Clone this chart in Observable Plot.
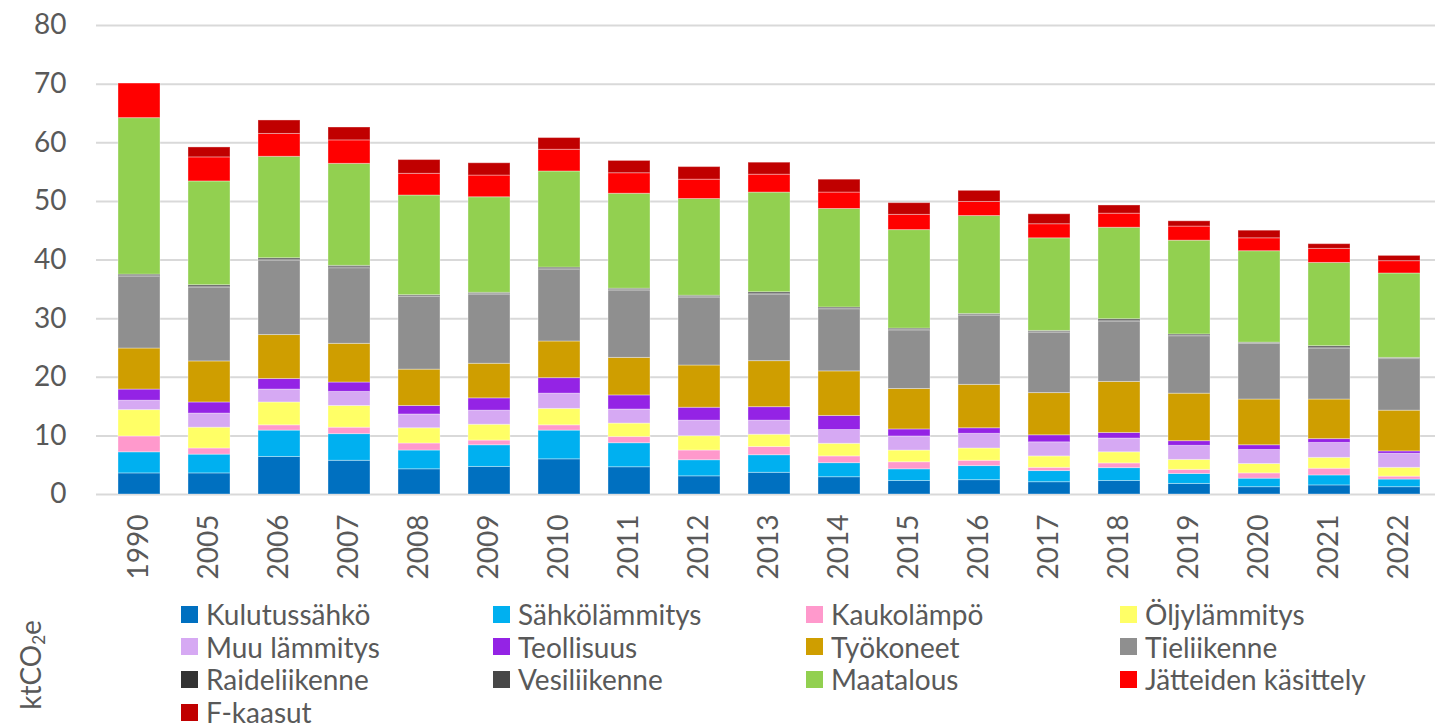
<!DOCTYPE html>
<html>
<head>
<meta charset="utf-8">
<script src="https://cdn.jsdelivr.net/npm/d3@7"></script>
<script src="https://cdn.jsdelivr.net/npm/@observablehq/plot@0.6"></script>
<style>
  html, body { margin: 0; padding: 0; background: #fff; overflow: hidden; }
  body { width: 1435px; height: 728px; position: relative; font-family: Lato, "Open Sans", sans-serif; color: #595959; }
  #chart svg { display: block; }
  .leg-item { position: absolute; height: 26px; line-height: 26px; display: flex; align-items: center; font-size: 28px; color: #595959; white-space: nowrap; }
  .leg-sw { width: 17px; height: 17px; margin-right: 8px; flex: none; }
  #unit { position: absolute; left: 31px; top: 665px; transform: translate(-50%, -50%) rotate(-90deg); font-size: 28px; color: #595959; white-space: nowrap; }
  #unit sub { font-size: 17px; vertical-align: -4px; }
</style>
</head>
<body>
<div id="chart"></div>
<div id="legend"></div>
<div id="unit">ktCO<sub>2</sub>e</div>
<script>
const years = ["1990","2005","2006","2007","2008","2009","2010","2011","2012","2013","2014","2015","2016","2017","2018","2019","2020","2021","2022"];
const series = ["Kulutussähkö","Sähkölämmitys","Kaukolämpö","Öljylämmitys","Muu lämmitys","Teollisuus","Työkoneet","Tieliikenne","Raideliikenne","Vesiliikenne","Maatalous","Jätteiden käsittely","F-kaasut"];
const colors = ["#0070C0","#00B0F0","#FF99CC","#FFFF66","#D6A9F3","#9423E5","#CF9E00","#8F8F8F","#333333","#474747","#92D050","#FF0000","#C00000"];
const yTicks = [0,10,20,30,40,50,60,70,80];

const kulutussahko   = [3.6,3.6,6.4,5.75,4.3,4.7,6.0,4.65,3.1,3.7,2.95,2.3,2.45,2.1,2.3,1.8,1.25,1.55,1.25];
const sahkolammitys  = [3.6,3.2,4.5,4.55,3.2,3.7,4.9,4.1,2.75,3.0,2.4,2.0,2.4,1.9,2.2,1.7,1.45,1.7,1.3];
const kaukolampo     = [2.7,1.05,0.9,1.1,1.2,0.8,0.9,1.05,1.65,1.4,1.15,1.2,0.9,0.55,0.8,0.7,0.9,1.15,0.5];
const oljylammitys   = [4.5,3.55,3.9,3.7,2.6,2.7,2.8,2.3,2.45,2.1,2.15,2.0,2.1,1.95,1.9,1.7,1.6,1.85,1.5];
const muuLammitys    = [1.6,2.4,2.2,2.4,2.35,2.4,2.6,2.4,2.65,2.4,2.35,2.4,2.5,2.4,2.35,2.4,2.4,2.55,2.4];
const teollisuus     = [1.9,1.9,1.8,1.6,1.45,2.1,2.65,2.4,2.2,2.3,2.4,1.2,0.95,1.2,0.95,0.8,0.8,0.65,0.4];
const tyokoneet      = [7.0,7.0,7.5,6.6,6.2,5.9,6.25,6.4,7.2,7.85,7.6,6.9,7.4,7.2,8.7,8.1,7.8,6.75,6.95];
const tieliikenne    = [12.2,12.6,12.7,12.9,12.4,11.8,12.2,11.5,11.6,11.35,10.6,10.0,11.8,10.3,10.3,9.8,9.5,8.7,8.8];
const raideliikenne  = [0.15,0.15,0.15,0.15,0.1,0.1,0.15,0.1,0.1,0.15,0.1,0.1,0.1,0.1,0.15,0.1,0.1,0.15,0.1];
const vesiliikenne   = [0.25,0.25,0.25,0.25,0.2,0.2,0.25,0.2,0.2,0.25,0.2,0.2,0.2,0.2,0.25,0.2,0.1,0.25,0.1];
const maatalous      = [26.7,17.7,17.3,17.4,17.0,16.3,16.4,16.2,16.5,17.0,16.8,16.8,16.7,15.8,15.6,16.0,15.6,14.2,14.4];
const jatteet        = [5.9,4.1,3.9,4.0,3.7,3.7,3.7,3.5,3.3,3.05,2.8,2.6,2.4,2.4,2.4,2.4,2.2,2.4,2.1];
const fKaasut        = [0,1.7,2.3,2.2,2.35,2.1,2.0,2.1,2.15,2.05,2.2,2.0,1.9,1.7,1.4,0.9,1.3,0.8,0.9];

const values = [kulutussahko,sahkolammitys,kaukolampo,oljylammitys,muuLammitys,teollisuus,tyokoneet,tieliikenne,raideliikenne,vesiliikenne,maatalous,jatteet,fKaasut];

const data = [];
years.forEach((yr, i) => {
  series.forEach((s, j) => {
    data.push({year: yr, series: s, value: values[j][i]});
  });
});

const chart = Plot.plot({
  width: 1435,
  height: 590,
  marginTop: 25,
  marginBottom: 96,
  marginLeft: 96,
  marginRight: 0,
  style: {fontFamily: "Lato, 'Open Sans', sans-serif", color: "#595959", background: "white", overflow: "hidden"},
  x: {type: "band", domain: years, range: [96, 1441], paddingInner: 0.4, paddingOuter: 0.2, align: 0.5},
  y: {domain: [0, 80]},
  color: {domain: series, range: colors},
  marks: [
    Plot.gridY(yTicks, {stroke: "#d9d9d9", strokeOpacity: 1, strokeWidth: 2}),
    Plot.barY(data, {x: "year", y: "value", fill: "series", stroke: "white", strokeOpacity: 0.35, strokeWidth: 1}),
    Plot.axisY(yTicks, {tickSize: 0, tickPadding: 30, fontSize: 28, label: null}),
    Plot.axisX({tickSize: 0, tickPadding: 20, tickRotate: -90, fontSize: 28, label: null})
  ]
});
document.getElementById("chart").appendChild(chart);

// legend from the color scale
const cs = chart.scale("color");
const legend = document.getElementById("legend");
const colX = [181, 493, 806, 1120];
cs.domain.forEach((name, k) => {
  const row = Math.floor(k / 4), col = k % 4;
  const item = document.createElement("div");
  item.className = "leg-item";
  item.style.left = colX[col] + "px";
  item.style.top = (614 + row * 32.7 - 13) + "px";
  const sw = document.createElement("span");
  sw.className = "leg-sw";
  sw.style.background = cs.range[k];
  const tx = document.createElement("span");
  tx.textContent = name;
  item.appendChild(sw);
  item.appendChild(tx);
  legend.appendChild(item);
});
</script>
</body>
</html>
